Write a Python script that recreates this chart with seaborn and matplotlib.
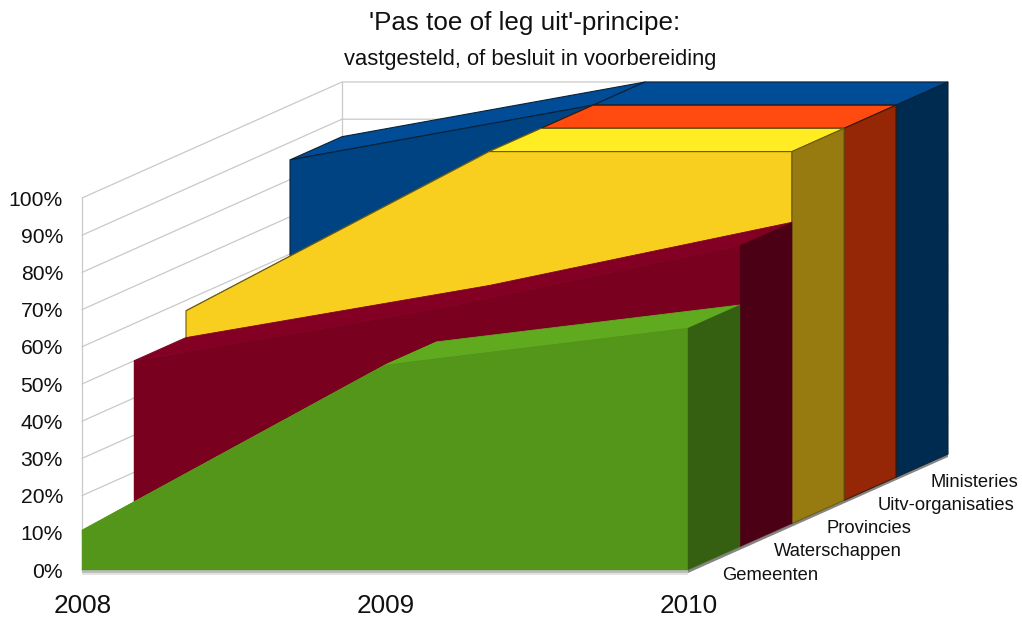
import matplotlib
matplotlib.use("Agg")
import matplotlib.pyplot as plt
import numpy as np
import pandas as pd
import seaborn as sns

years = ["2008", "2009", "2010"]
series = ["Gemeenten", "Waterschappen", "Provincies", "Uitv-organisaties", "Ministeries"]
gemeenten = [10.7, 55.1, 65.0]
waterschappen = [50.0, 64.0, 81.0]
provincies = [57.2, 100.0, 100.0]
uitv = [50.0, 100.0, 100.0]
ministeries = [85.3, 100.0, 100.0]
y_ticks = list(range(0, 101, 10))
title = "'Pas toe of leg uit'-principe:"
subtitle = "vastgesteld, of besluit in voorbereiding"

front_colors = ["#54961A", "#7A0020", "#F8CE1F", "#E8420E", "#004382"]
top_colors = ["#5FAA1E", "#830024", "#FFEC22", "#FF4A10", "#004C96"]
side_colors = ["#355F11", "#4B0015", "#977A10", "#952707", "#002B50"]
edge_colors = [None, None, "#6B5A10", "#3A1A08", "#0A2238"]

X0, XSTEP = 82.0, 303.0
Y0, YSCALE = 570.0, 3.72
DX, DY = 52.0, -23.2


def proj(i, v, d):
    return X0 + XSTEP * i + DX * d, Y0 - YSCALE * v + DY * d


sns.set_theme(style="white")
plt.rcParams["font.family"] = ["Liberation Sans", "DejaVu Sans"]

fig = plt.figure(figsize=(10.22, 6.19), dpi=100)
ax = fig.add_axes([0, 0, 1, 1])
ax.set_xlim(0, 1022)
ax.set_ylim(619, 0)
ax.axis("off")

# walls
GRID = "#C9C9C9"
rows = []
for t in y_ticks:
    a = proj(0, t, 0)
    b = proj(0, t, 5)
    c = proj(2, t, 5)
    rows += [(f"g{t}", a[0], a[1], 0), (f"g{t}", b[0], b[1], 1), (f"g{t}", c[0], c[1], 2)]
for name, d in (("left", 0), ("back", 5)):
    a = proj(0, 0, d)
    b = proj(0, 100, d)
    rows += [(name, a[0], a[1], 0), (name, b[0], b[1], 1)]
grid = pd.DataFrame(rows, columns=["id", "x", "y", "o"])
sns.lineplot(data=grid, x="x", y="y", units="id", estimator=None, sort=False,
             color=GRID, lw=0.9, ax=ax, legend=False, zorder=1)

# floor shadow
f = [proj(0, 0, 0), proj(2, 0, 0), proj(2, 0, 5)]
ax.fill([f[0][0], f[1][0], f[1][0], f[0][0]],
        [f[0][1], f[1][1], f[1][1] + 5, f[0][1] + 5], color="#E2E2E2", lw=0, zorder=2)
ax.fill([f[0][0], f[1][0], f[1][0], f[0][0]],
        [f[0][1], f[1][1], f[1][1] + 3, f[0][1] + 3], color="#BDBDBD", lw=0, zorder=2)
ax.fill([f[1][0], f[2][0], f[2][0], f[1][0]],
        [f[1][1], f[2][1], f[2][1] + 3, f[1][1] + 3], color="#858585", lw=0, zorder=2)

# areas, from back to front
values = [gemeenten, waterschappen, provincies, uitv, ministeries]
z = 3
for d in range(4, -1, -1):
    vals = values[d]
    ec = edge_colors[d]
    # top faces (self-coloured edge where the original has no outline, to close seams)
    for i in range(2):
        p = [proj(i, vals[i], d), proj(i + 1, vals[i + 1], d),
             proj(i + 1, vals[i + 1], d + 1), proj(i, vals[i], d + 1)]
        ax.fill(*zip(*p), facecolor=top_colors[d], zorder=z,
                edgecolor=ec or top_colors[d], linewidth=0.8 if ec else 0.6)
    # front face
    p = [proj(0, 0, d)] + [proj(i, vals[i], d) for i in range(3)] + [proj(2, 0, d)]
    ax.fill(*zip(*p), facecolor=front_colors[d], zorder=z,
            edgecolor=ec or front_colors[d], linewidth=0.8 if ec else 0.3)
    # right side
    p = [proj(2, 0, d), proj(2, vals[2], d), proj(2, vals[2], d + 1), proj(2, 0, d + 1)]
    ax.fill(*zip(*p), facecolor=side_colors[d], zorder=z,
            edgecolor=ec or side_colors[d], linewidth=0.8 if ec else 0.3)
    z += 1

# text
for t in y_ticks:
    ax.text(63, proj(0, t, 0)[1] + 2, f"{t}%", ha="right", va="center",
            fontsize=15.2, color="#111111", zorder=20)
for i, yr in enumerate(years):
    ax.text(proj(i, 0, 0)[0] + 1, 606, yr, ha="center", va="center",
            fontsize=18.8, color="#111111", zorder=20)
for d, name in enumerate(series):
    ax.text(722 + 52 * d, 575 - 23.1 * d, name, ha="left", va="center",
            fontsize=13.2, color="#111111", zorder=20)
ax.text(525, 23, title, ha="center", va="center", fontsize=18.7, color="#111111", zorder=20)
ax.text(530.5, 60, subtitle, ha="center", va="center", fontsize=15.8, color="#111111", zorder=20)

fig.savefig("out.png", dpi=100)
